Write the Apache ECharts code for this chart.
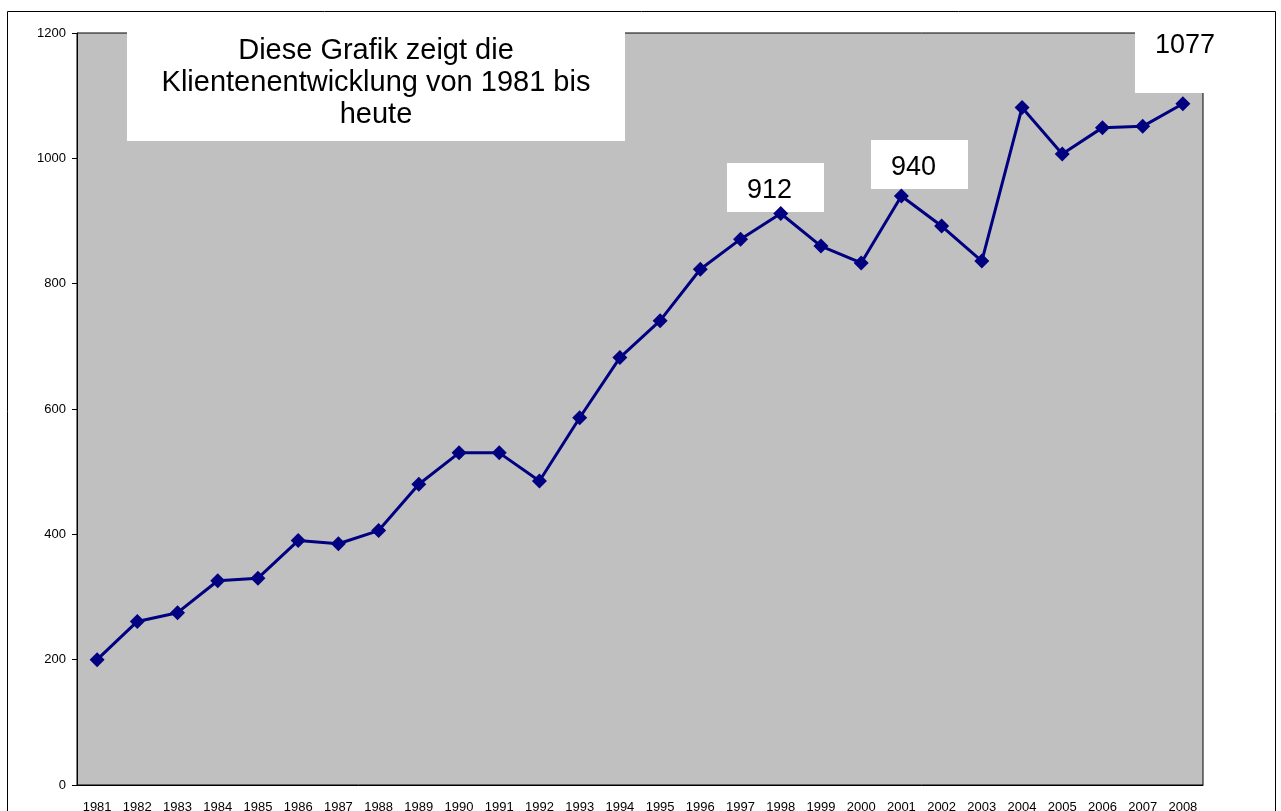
<!DOCTYPE html>
<html>
<head>
<meta charset="utf-8">
<title>Klientenentwicklung</title>
<script src="https://cdn.jsdelivr.net/npm/echarts@6/dist/echarts.min.js"></script>
<style>
  html, body { margin: 0; padding: 0; background: #fff; }
  #chart { width: 1281px; height: 811px; }
</style>
</head>
<body>
<div id="chart"></div>
<script>
// Jahre und Klientenzahlen
const years = ['1981', '1982', '1983', '1984', '1985', '1986', '1987', '1988', '1989', '1990',
  '1991', '1992', '1993', '1994', '1995', '1996', '1997', '1998', '1999', '2000',
  '2001', '2002', '2003', '2004', '2005', '2006', '2007', '2008'];
const clients = [200, 261, 275, 326, 330, 390, 385, 406, 480, 530,
  530, 485, 586, 682, 741, 823, 871, 912, 860, 833,
  940, 892, 836, 1081, 1007, 1049, 1051, 1087];
const yTicks = { min: 0, max: 1200, step: 200 };

const titleLines = ['Diese Grafik zeigt die', 'Klientenentwicklung von 1981 bis', 'heute'];
const calloutTexts = ['912', '940', '1077'];

const FONT = '"Liberation Sans", Arial, sans-serif';

const chart = echarts.init(document.getElementById('chart'));

// Textkasten: weisses Rechteck mit Text darin
const box = (x, y, w, h, text, opts) => ({
  type: 'group',
  x: x, y: y, z: 100,
  children: [
    { type: 'rect', shape: { x: 0, y: 0, width: w, height: h }, style: { fill: '#fff' } },
    {
      type: 'text',
      x: opts.tx, y: opts.ty,
      style: {
        text: text,
        fill: '#000',
        font: opts.size + 'px ' + FONT,
        align: opts.align || 'left',
        verticalAlign: 'top',
        lineHeight: opts.lh || opts.size
      }
    }
  ]
});

chart.setOption({
  animation: false,
  backgroundColor: '#fff',
  grid: {
    left: 77, top: 33, right: 78, bottom: 26,
    outerBoundsMode: 'none',
    containLabel: false,
    show: true,
    backgroundColor: '#C0C0C0',
    borderColor: '#000',
    borderWidth: 1
  },
  xAxis: {
    type: 'category',
    data: years,
    boundaryGap: true,
    axisLine: { lineStyle: { color: '#000', width: 1 } },
    axisTick: { length: 5, lineStyle: { color: '#000' } },
    axisLabel: { color: '#000', fontFamily: FONT, fontSize: 13, margin: 16, interval: 0 },
    splitLine: { show: false }
  },
  yAxis: {
    type: 'value',
    min: yTicks.min, max: yTicks.max, interval: yTicks.step,
    axisLine: { show: true, lineStyle: { color: '#000', width: 1 } },
    axisTick: { show: true, length: 5, lineStyle: { color: '#000' } },
    axisLabel: { color: '#000', fontFamily: FONT, fontSize: 13, margin: 11, formatter: v => String(v) },
    splitLine: { show: false }
  },
  series: [{
    type: 'line',
    data: clients,
    symbol: 'diamond',
    symbolSize: 15,
    lineStyle: { color: '#000080', width: 3 },
    itemStyle: { color: '#000080' },
    z: 5
  }],
  graphic: [
    // Rahmen um die ganze Grafik
    { type: 'rect', z: 90, shape: { x: 7.5, y: 11.5, width: 1268, height: 830 },
      style: { fill: 'none', stroke: '#000', lineWidth: 1 } },
    box(127, 32, 498, 109, titleLines.join('\n'), { tx: 249, ty: 3, size: 29, lh: 32, align: 'center' }),
    box(727, 163, 97, 49, calloutTexts[0], { tx: 20, ty: 14, size: 27 }),
    box(871, 140, 97, 49, calloutTexts[1], { tx: 20, ty: 14, size: 27 }),
    box(1135, 32, 97, 61, calloutTexts[2], { tx: 20, ty: 0, size: 27 })
  ]
});
</script>
</body>
</html>
